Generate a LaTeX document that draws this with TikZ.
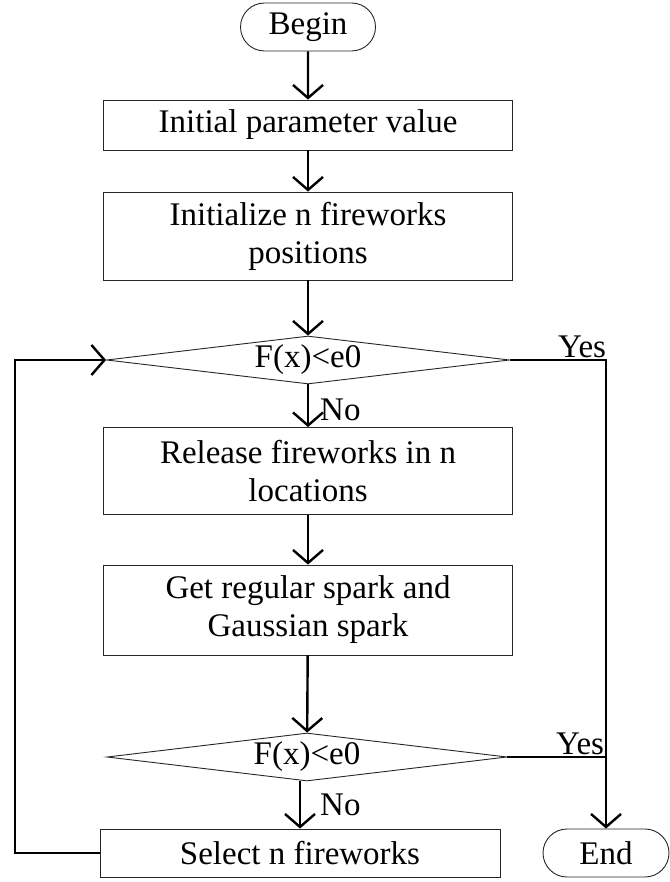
\documentclass[tikz,border=0pt]{standalone}
\usepackage{fontspec}
\setmainfont{Liberation Serif}
\usetikzlibrary{shapes.geometric,shapes.misc,arrows.meta,calc}
\begin{document}
\begin{tikzpicture}[x=1pt,y=-1pt,
  txt/.style={font=\fontsize{33}{38}\selectfont},
  box/.style={draw=black!85,line width=0.9pt,rectangle,minimum width=409pt,align=center,txt,inner sep=0pt},
  term/.style={draw=black!85,line width=0.9pt,rounded rectangle,minimum height=48pt,txt,inner sep=0pt},
  dec/.style={draw=black!85,line width=0.9pt,diamond,minimum width=403pt,minimum height=48pt,aspect=8.4,inner sep=0pt,txt},
  conn/.style={line width=2.4pt},
  arr/.style={conn,-{Straight Barb[length=13pt,width=30pt,line width=2.4pt]}},
  lab/.style={txt,inner sep=0pt}]
\useasboundingbox (0,0) rectangle (669,882);
\node[term,minimum width=135pt] (begin) at (308,27) {Begin};
\node[box,minimum height=50pt] (b1) at (308,125) {Initial parameter value};
\node[box,minimum height=88pt] (b2) at (308,236) {Initialize n fireworks\\positions};
\node[dec] (d1) at (308,360) {F(x)<e0};
\node[box,minimum height=87pt] (b3) at (308,471) {Release fireworks in n\\locations};
\node[box,minimum height=90pt] (b4) at (308,610) {Get regular spark and\\Gaussian spark};
\node[dec,minimum width=400pt] (d2) at (307,757) {F(x)<e0};
\node[box,minimum width=400pt,minimum height=48pt] (sel) at (300,853) {Select n fireworks};
\node[term,minimum width=126pt] (end) at (606,853) {End};
\coordinate (loopx) at (15,853);
\node[lab,anchor=west] (no1) at (320,410) {No};
\node[lab,anchor=west] (no2) at (320,805) {No};
\node[lab] (yes1) at (582,347) {Yes};
\node[lab] (yes2) at (580,744) {Yes};
\draw[arr] (begin) -- (b1);
\draw[arr] (b1) -- (b2);
\draw[arr] (b2) -- (d1);
\draw[arr] (d1) -- (b3);
\draw[arr] (b3) -- (b4);
\draw[arr] (b4) -- (d2);
\draw[arr] (sel.north |- d2.south) -- (sel.north);
\draw[arr] (d1.east) -| (end.north);
\draw[conn] (d2.east) -- (end.north |- d2.east);
\draw[arr] (sel.west) -- (loopx) |- (d1.west);
\end{tikzpicture}
\end{document}
